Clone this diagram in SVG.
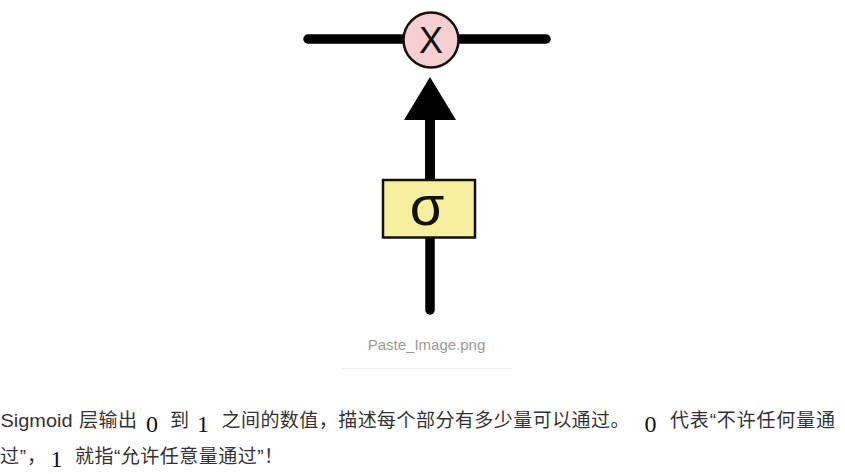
<svg xmlns="http://www.w3.org/2000/svg" width="845" height="474" viewBox="0 0 845 474">
  <style>
    .wire { stroke: #000; stroke-width: 9.5; stroke-linecap: round; fill: none; }
    .shaft { stroke: #000; stroke-width: 10; fill: none; }
    .body { font-family: "Liberation Sans", "Noto Sans CJK SC", sans-serif; font-size: 19px; fill: #333; }
    .math { font-family: "Liberation Serif", "Noto Serif", serif; font-size: 24px; fill: #111; }
    .caption { font-family: "Liberation Sans", "Noto Sans", sans-serif; font-size: 15px; fill: #999; }
  </style>
  <rect x="0" y="0" width="845" height="474" fill="#fff"/>

  <g id="connectors">
    <line class="wire" x1="308" y1="39" x2="546" y2="39"/>
    <line class="wire" x1="430" y1="237" x2="430" y2="310"/>
    <line class="shaft" x1="430" y1="115" x2="430" y2="181"/>
    <polygon points="430,77 404,120 456,120" fill="#000"/>
  </g>

  <g id="node-multiply">
    <circle cx="431" cy="40" r="27.5" fill="#f8cfd0" stroke="#111" stroke-width="2.5"/>
    <text x="431" y="53" text-anchor="middle" font-family="Liberation Sans, Arial, sans-serif" font-size="36" fill="#111">X</text>
  </g>

  <g id="node-sigmoid">
    <rect x="383" y="180" width="92" height="57.5" fill="#f5ef9e" stroke="#111" stroke-width="2.5"/>
    <text x="427" y="225" text-anchor="middle" font-family="Liberation Sans, DejaVu Sans, sans-serif" font-size="56" fill="#111">σ</text>
  </g>

  <g id="caption">
    <text class="caption" x="426.5" y="350" text-anchor="middle">Paste_Image.png</text>
    <line x1="341.5" y1="368.5" x2="511.5" y2="368.5" stroke="#ececec" stroke-width="1"/>
  </g>

  <g id="paragraph">
    <text class="body" x="0.5" y="427" textLength="72" lengthAdjust="spacingAndGlyphs">Sigmoid</text>
    <text class="body" x="79" y="427" textLength="58">层输出</text>
    <text class="math" x="146" y="431.5">0</text>
    <text class="body" x="170" y="427">到</text>
    <text class="math" x="197" y="431.5">1</text>
    <text class="body" x="221.5" y="427" textLength="408">之间的数值，描述每个部分有多少量可以通过。</text>
    <text class="math" x="644.5" y="431.5">0</text>
    <text class="body" x="670" y="427" textLength="165">代表“不许任何量通</text>

    <text class="body" x="0" y="463" textLength="46">过”，</text>
    <text class="math" x="50.5" y="467">1</text>
    <text class="body" x="75" y="463" textLength="208">就指“允许任意量通过”！</text>
  </g>
</svg>
